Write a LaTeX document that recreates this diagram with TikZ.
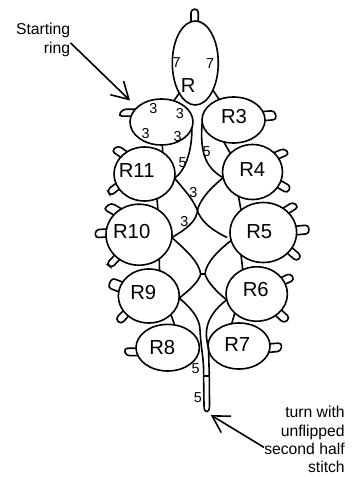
\documentclass[tikz,border=0pt]{standalone}
\usepackage{fontspec}
\setmainfont{Liberation Sans}
\usetikzlibrary{shapes.geometric,arrows.meta}
\newlength{\du}
\setlength{\du}{0.75pt}
\tikzset{
  ringnode/.style 2 args={draw,ellipse,inner sep=0pt,outer sep=0pt,line width=1.2pt,minimum width=#1\du,minimum height=#2\du},
  ringlabel/.style={inner sep=0pt,font=\fontsize{15.2}{16}\selectfont},
  countlabel/.style={inner sep=0pt,font=\fontsize{10.8}{12}\selectfont},
  notelabel/.style={inner sep=0pt,align=right,font=\fontsize{11.8}{13.6}\selectfont},
  threadline/.style={line width=1.2pt,line join=round,line cap=round},
  picotline/.style={line width=1.2pt,line cap=round,rounded corners=3.5\du},
  notearrow/.style={line width=1.2pt,-{Straight Barb[length=12.4pt,width=14.3pt,line width=1.2pt]}}
}
\begin{document}
\begin{tikzpicture}
\pgftransformxscale{1.000000}
\pgftransformyscale{-1.000000}
\useasboundingbox (0\du,0\du) rectangle (360\du,477\du);
% rings
\node[ringnode={46}{84}] (R) at (195.3\du,63\du){};
\node[ringnode={63}{46}] (startring) at (161.5\du,122\du){};
\node[ringnode={63}{46}] (R3) at (233.5\du,120\du){};
\node[ringnode={61}{54}] (R11) at (144.5\du,174\du){};
\node[ringnode={60}{55}] (R4) at (252.5\du,172\du){};
\node[ringnode={66}{61}] (R10) at (139\du,234.7\du){};
\node[ringnode={66.6}{60}] (R5) at (263.3\du,232.5\du){};
\node[ringnode={61}{54}] (R9) at (148.8\du,296\du){};
\node[ringnode={61.4}{54.4}] (R6) at (256.7\du,294\du){};
\node[ringnode={63.4}{46.6}] (R8) at (167.7\du,347.7\du){};
\node[ringnode={62}{46}] (R7) at (239\du,346\du){};
% ring names
\node[ringlabel] (Rname) at (188.3\du,85.7\du){R};
\node[ringlabel] (R3name) at (234\du,116.7\du){R3};
\node[ringlabel] (R11name) at (136.7\du,170.7\du){R11};
\node[ringlabel] (R4name) at (252.3\du,170\du){R4};
\node[ringlabel] (R10name) at (131.7\du,231.7\du){R10};
\node[ringlabel] (R5name) at (259.3\du,231.7\du){R5};
\node[ringlabel] (R9name) at (143.3\du,292.7\du){R9};
\node[ringlabel] (R6name) at (255.7\du,289.3\du){R6};
\node[ringlabel] (R8name) at (162.3\du,347.3\du){R8};
\node[ringlabel] (R7name) at (237.3\du,345\du){R7};
% stitch counts
\node[countlabel] (countA) at (176.7\du,62.7\du){7};
\node[countlabel] (countB) at (210\du,63.3\du){7};
\node[countlabel] (countC) at (153.3\du,109\du){3};
\node[countlabel] (countD) at (180\du,114\du){3};
\node[countlabel] (countE) at (145.7\du,134\du){3};
\node[countlabel] (countF) at (177.7\du,136.7\du){3};
\node[countlabel] (countG) at (182.7\du,162.3\du){5};
\node[countlabel] (countH) at (206.7\du,151.7\du){5};
\node[countlabel] (countI) at (193.3\du,192.7\du){3};
\node[countlabel] (countJ) at (184.3\du,221.7\du){3};
\node[countlabel] (countK) at (195.7\du,369\du){5};
\node[countlabel] (countL) at (198\du,397.7\du){5};
% short joins between rings
\draw[threadline] (R.242)--(startring.60);
\draw[threadline] (R.303)--(R3.125);
\draw[threadline] (startring.272)--(R11.50);
\draw[threadline] (R3.246)--(R4.140);
\draw[threadline] (R11.297)--(R10.53);
\draw[threadline] (R4.240)--(R5.135);
\draw[threadline] (R10.310)--(R9.67);
\draw[threadline] (R5.225)--(R6.120);
\draw[threadline] (R9.320)--(R8.73);
\draw[threadline] (R6.221)--(R7.108);
% threads
\coordinate (gapend) at (226.7\du,237.3\du);
\coordinate (tieleft) at (200.7\du,274\du);
\coordinate (tieright) at (205\du,274\du);
\coordinate (turnleft) at (203.6\du,376\du);
\coordinate (turnright) at (209.3\du,376\du);
\coordinate (turnend) at (206.7\du,411.7\du);
\draw[threadline] (startring.349) .. controls (192\du,150\du) and (186\du,170\du) .. (R11.352);
\draw[threadline] (R3.184) .. controls (200\du,150\du) and (204\du,167\du) .. (R4.191);
\draw[threadline] (R11.352) .. controls (186\du,192\du) and (194\du,200\du) .. (198.3\du,213\du) .. controls (204\du,225\du) and (216\du,232\du) .. (gapend);
\draw[threadline] (R10.355) .. controls (186\du,229\du) and (197\du,222\du) .. (198\du,208\du) .. controls (202\du,197\du) and (212\du,187\du) .. (R4.191);
\draw[threadline] (R10.355) .. controls (186\du,250\du) and (199\du,262\du) .. (tieleft) .. controls (199\du,282\du) and (187\du,292\du) .. (R9.356);
\draw[threadline] (R5.194) .. controls (220\du,249\du) and (206\du,262\du) .. (tieright) .. controls (207\du,282\du) and (218\du,293\du) .. (R6.191);
\draw[threadline] (tieleft)--(tieright);
\draw[threadline] (R9.356) .. controls (190\du,307\du) and (200\du,318\du) .. (200\du,330\du) .. controls (201\du,350\du) and (204\du,358\du) .. (turnleft) -- (204\du,405\du) .. controls (204\du,410\du) and (205\du,411.7\du) .. (turnend) .. controls (208.5\du,411.7\du) and (209.5\du,410\du) .. (209.5\du,405\du) -- (turnright) -- (208.5\du,348\du) .. controls (205\du,335\du) and (203\du,318\du) .. (R6.191);
\draw[threadline] (turnleft)--(turnright);
% picots
\draw[picotline] (R.96) -- +(0\du,-12.4\du) -- ([shift={(0\du,-12.4\du)}]R.86) -- (R.86);
\draw[picotline] (startring.154) -- +(-12.7\du,0\du) -- ([shift={(-12.7\du,0\du)}]startring.169) -- (startring.169);
\draw[picotline] (R3.16) -- +(11.7\du,-1\du) -- ([shift={(11.7\du,-1\du)}]R3.359) -- (R3.359);
\draw[picotline] (R4.42) -- +(10.5\du,-4.5\du) -- ([shift={(10.5\du,-4.5\du)}]R4.27) -- (R4.27);
\draw[picotline] (R4.328) -- +(10\du,5.7\du) -- ([shift={(10\du,5.7\du)}]R4.343) -- (R4.343);
\draw[picotline] (R5.51) -- +(9.8\du,-6.3\du) -- ([shift={(9.8\du,-6.3\du)}]R5.37) -- (R5.37);
\draw[picotline] (R5.11) -- +(12.7\du,-1.2\du) -- ([shift={(12.7\du,-1.2\du)}]R5.356) -- (R5.356);
\draw[picotline] (R5.319) -- +(9.5\du,8\du) -- ([shift={(9.5\du,8\du)}]R5.332) -- (R5.332);
\draw[picotline] (R6.34) -- +(9.2\du,-4.3\du) -- ([shift={(9.2\du,-4.3\du)}]R6.19) -- (R6.19);
\draw[picotline] (R6.311) -- +(8.5\du,7.7\du) -- ([shift={(8.5\du,7.7\du)}]R6.327) -- (R6.327);
\draw[picotline] (R7.4) -- +(12\du,-1\du) -- ([shift={(12\du,-1\du)}]R7.348) -- (R7.348);
\draw[picotline] (R8.181) -- +(-12\du,0\du) -- ([shift={(-12\du,0\du)}]R8.195) -- (R8.195);
\draw[picotline] (R9.152) -- +(-10.8\du,-4.2\du) -- ([shift={(-10.8\du,-4.2\du)}]R9.172) -- (R9.172);
\draw[picotline] (R9.210) -- +(-7.8\du,8\du) -- ([shift={(-7.8\du,8\du)}]R9.225) -- (R9.225);
\draw[picotline] (R10.124) -- +(-10.3\du,-6\du) -- ([shift={(-10.3\du,-6\du)}]R10.142) -- (R10.142);
\draw[picotline] (R10.170) -- +(-11\du,0.7\du) -- ([shift={(-11\du,0.7\du)}]R10.184) -- (R10.184);
\draw[picotline] (R10.220) -- +(-8\du,8.5\du) -- ([shift={(-8\du,8.5\du)}]R10.232) -- (R10.232);
\draw[picotline] (R11.128) -- +(-9\du,-6.3\du) -- ([shift={(-9\du,-6.3\du)}]R11.145) -- (R11.145);
\draw[picotline] (R11.198) -- +(-8.7\du,6.7\du) -- ([shift={(-8.7\du,6.7\du)}]R11.211) -- (R11.211);
% notes
\node[notelabel,anchor=east] (startnote) at (70.5\du,40\du){Starting\\ring};
\node[notelabel,anchor=east] (turnnote) at (345\du,439.5\du){turn with\\unflipped\\second half\\stitch};
\coordinate (starttip) at (130\du,100.5\du);
\coordinate (turntip) at (210.7\du,415\du);
\draw[notearrow] (startnote.354)--(starttip);
\draw[notearrow] (turnnote.191)--(turntip);
\end{tikzpicture}
\end{document}
